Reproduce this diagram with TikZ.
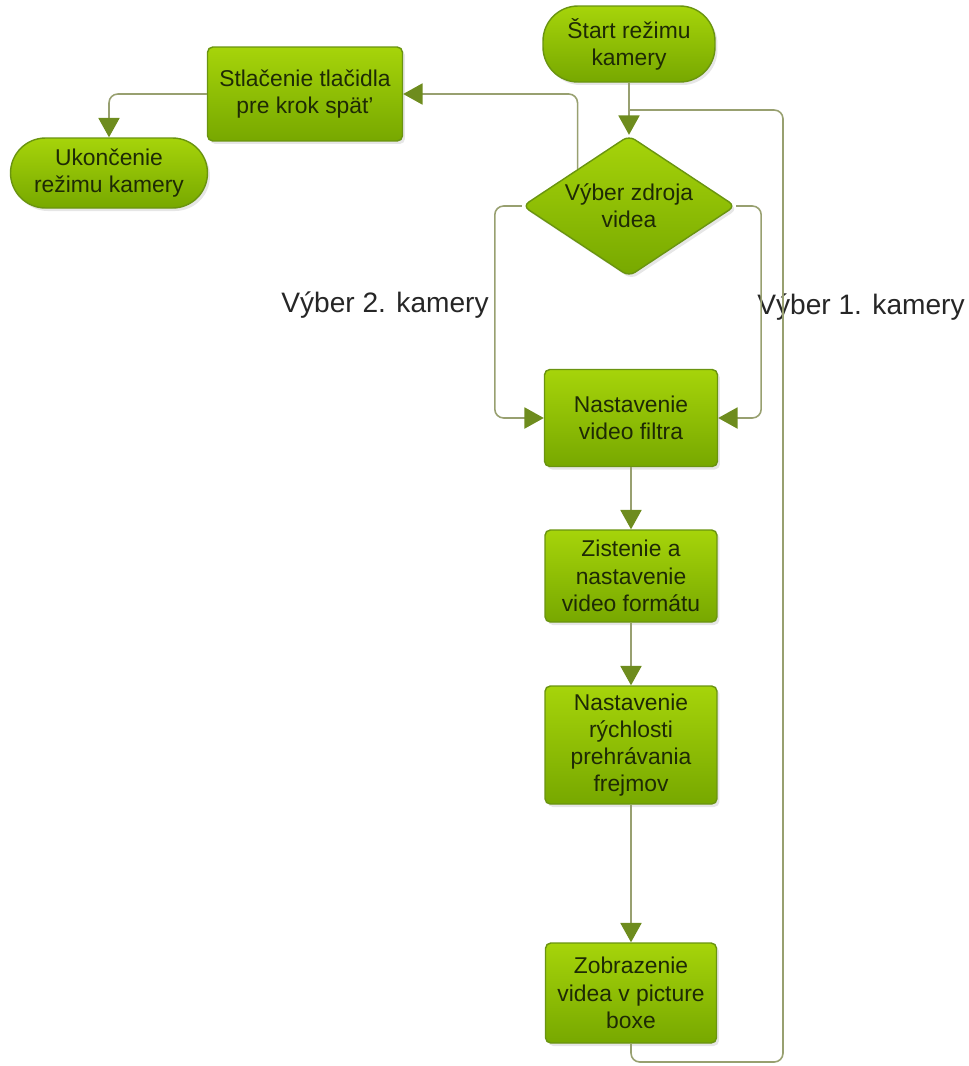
\documentclass[tikz,border=0pt]{standalone}
\usepackage{fontspec}
\setmainfont{Liberation Sans}
\usetikzlibrary{shapes.geometric,arrows.meta,shadows,calc}

\definecolor{boxtop}{HTML}{A6D40A}
\definecolor{boxbot}{HTML}{77A800}
\definecolor{boxline}{HTML}{6A9410}
\definecolor{boxtext}{HTML}{1E2A05}
\definecolor{linec}{HTML}{98A070}
\definecolor{tipc}{HTML}{6E8C1E}

\tikzset{
  box/.style={draw=boxline, line width=0.8pt, top color=boxtop, bottom color=boxbot,
    text=boxtext, align=center, rounded corners=3pt, inner sep=2pt,
    font=\fontsize{13}{15.5}\selectfont,
    drop shadow={opacity=0.2, shadow xshift=0.05cm, shadow yshift=-0.06cm}},
  term/.style={box, rounded corners=0.7cm},
  decide/.style={box, diamond, aspect=1.5, inner sep=0pt, rounded corners=4pt},
  conn/.style={draw=linec, line width=0.9pt, rounded corners=5pt,
    -{Triangle[length=11pt, width=12pt, color=tipc]}},
  plain/.style={draw=linec, line width=0.9pt, rounded corners=5pt},
  lab/.style={text=black!85, font=\fontsize{16}{19}\selectfont}
}

\begin{document}
\begin{tikzpicture}[x=0.02cm, y=-0.02cm]
 \useasboundingbox (0,0) rectangle (968,1066);

 \node[term, minimum width=3.44cm, minimum height=1.52cm] (start) at (629,44) {Štart režimu\\kamery};
 \node[box, minimum width=3.9cm, minimum height=1.88cm] (stlac) at (305,94) {Stlačenie tlačidla\\pre krok spät'};
 \node[term, minimum width=3.94cm, minimum height=1.4cm] (ukonc) at (109,173) {Ukončenie\\režimu kamery};
 \node[decide, minimum width=4.26cm, minimum height=2.82cm] (vyber) at (629,206) {Výber zdroja\\videa};
 \node[box, minimum width=3.46cm, minimum height=1.94cm] (filter) at (631,418) {Nastavenie\\video filtra};
 \node[box, minimum width=3.44cm, minimum height=1.84cm] (format) at (631,576) {Zistenie a\\nastavenie\\video formátu};
 \node[box, minimum width=3.44cm, minimum height=2.36cm] (rychl) at (631,745) {Nastavenie\\rýchlosti\\prehrávania\\frejmov};
 \node[box, minimum width=3.42cm, minimum height=2.0cm] (zobraz) at (631,993) {Zobrazenie\\videa v picture\\boxe};

 \node[lab] (lab2) at (385,305) {Výber 2. kamery};
 \node[lab] (lab1) at (861,307) {Výber 1. kamery};

 \coordinate (join) at (629,110);
 \coordinate (loopbr) at (783,1062);
 \coordinate (back) at ($(vyber.north)!0.48!(vyber.west)$);

 \draw[conn] (start) -- (vyber);
 \draw[plain] (zobraz.south) |- (loopbr) |- (join);
 \draw[conn] (back) |- (stlac.east);
 \draw[conn] (stlac.west) -| (ukonc.north);
 \draw[conn] (vyber.west) -- ++(-27,0) |- (filter.west);
 \draw[conn] (vyber.east) -- ++(25,0) |- (filter.east);
 \draw[conn] (filter) -- (format);
 \draw[conn] (format) -- (rychl);
 \draw[conn] (rychl) -- (zobraz);
\end{tikzpicture}
\end{document}
